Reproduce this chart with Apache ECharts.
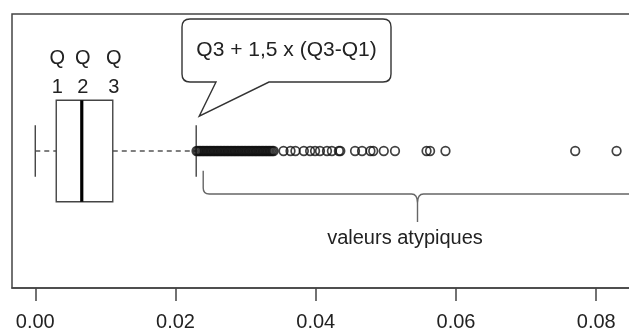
<!DOCTYPE html>
<html>
<head>
<meta charset="utf-8">
<script src="https://cdn.jsdelivr.net/npm/echarts@6/dist/echarts.min.js"></script>
<style>
  html, body { margin: 0; padding: 0; background: #fff; }
  #chart { width: 629px; height: 334px; }
</style>
</head>
<body>
<div id="chart"></div>
<script>
// Axis ticks and their labels
const xTicks = [0, 0.02, 0.04, 0.06, 0.08];
const tickLabels = ['0.00', '0.02', '0.04', '0.06', '0.08'];

// Box statistics: lower whisker, Q1, median, Q3, upper whisker (Q3 + 1.5 IQR)
const boxStats = [0.0000, 0.00299, 0.00663, 0.01105, 0.02295];
const quartileNames = ['Q\n1', 'Q\n2', 'Q\n3'];

// Outlying values beyond the upper whisker
const outliers = [
  0.0230, 0.0232, 0.0234, 0.0236, 0.0238, 0.0240, 0.0242, 0.0244, 0.0246, 0.0248,
  0.0250, 0.0252, 0.0254, 0.0256, 0.0258, 0.0260, 0.0262, 0.0264, 0.0266, 0.0268,
  0.0270, 0.0272, 0.0274, 0.0276, 0.0278, 0.0280, 0.0282, 0.0284, 0.0286, 0.0288,
  0.0290, 0.0292, 0.0294, 0.0296, 0.0298, 0.0300, 0.0302, 0.0304, 0.0306, 0.0308,
  0.0310, 0.0312, 0.0314, 0.0316, 0.0318, 0.0320, 0.0322, 0.0324, 0.0326, 0.0328,
  0.0330, 0.0332, 0.0334, 0.0336, 0.0338, 0.0340,
  0.0354, 0.0364, 0.0371, 0.0383, 0.0392, 0.0399, 0.0406, 0.0416, 0.0423,
  0.0433, 0.0435, 0.0456, 0.0466, 0.0478, 0.0482, 0.0497, 0.0513,
  0.0558, 0.0563, 0.0585, 0.0770, 0.0829
];

// Annotation texts
const fenceText = 'Q3 + 1,5 x (Q3-Q1)';
const outlierText = 'valeurs atypiques';

const FONT = '"Liberation Sans", Arial, sans-serif';
const INK = '#222';
const LINE = '#444';
const BOX_HALF = 0.185;   // half-height of the box in y units
const CAP_HALF = 0.094;   // half-height of the whisker caps
const ROW = 0.5;

function textEl(x, y, text, size) {
  return {
    type: 'text', x: x, y: y, z2: 20,
    style: {
      text: text, fill: INK, font: size + 'px ' + FONT,
      align: 'center', verticalAlign: 'middle',
      textAlign: 'center', textVerticalAlign: 'middle'
    }
  };
}

const chart = echarts.init(document.getElementById('chart'), null, { renderer: 'canvas' });

chart.setOption({
  animation: false,
  backgroundColor: '#fff',
  grid: {
    left: 12, top: 14, width: 628, height: 274,
    outerBoundsMode: 'none', containLabel: false,
    show: true, borderColor: LINE, borderWidth: 1.5, backgroundColor: 'transparent'
  },
  xAxis: {
    type: 'value',
    min: -0.00332, max: 0.08624,
    splitLine: { show: false },
    axisLine: { show: true, lineStyle: { color: LINE, width: 1.5 } },
    axisTick: { show: true, customValues: xTicks, length: 13, lineStyle: { color: LINE, width: 1.5 } },
    axisLabel: {
      customValues: xTicks,
      margin: 24,
      color: INK, fontSize: 20, fontFamily: FONT,
      formatter: v => {
        const i = xTicks.findIndex(t => Math.abs(t - v) < 1e-9);
        return i >= 0 ? tickLabels[i] : '';
      }
    }
  },
  yAxis: { type: 'value', min: 0, max: 1, show: false },
  series: [
    {
      // box, median and dashed whiskers
      type: 'custom',
      data: [boxStats],
      z: 2,
      clip: false,
      renderItem: (params, api) => {
        const px = i => api.coord([api.value(i), ROW])[0];
        const yc = api.coord([0, ROW])[1];
        const yTop = api.coord([0, ROW + BOX_HALF])[1];
        const yBot = api.coord([0, ROW - BOX_HALF])[1];
        const cTop = api.coord([0, ROW + CAP_HALF])[1];
        const cBot = api.coord([0, ROW - CAP_HALF])[1];
        const x0 = px(0), x1 = px(1), x2 = px(2), x3 = px(3), x4 = px(4);
        const dash = { stroke: '#555', lineWidth: 1.4, lineDash: [5, 4] };
        const solid = { stroke: LINE, lineWidth: 1.4 };
        return {
          type: 'group',
          children: [
            { type: 'line', shape: { x1: x0, y1: yc, x2: x1, y2: yc }, style: dash },
            { type: 'line', shape: { x1: x3, y1: yc, x2: x4, y2: yc }, style: dash },
            { type: 'line', shape: { x1: x0, y1: cTop, x2: x0, y2: cBot }, style: solid },
            { type: 'line', shape: { x1: x4, y1: cTop, x2: x4, y2: cBot }, style: solid },
            { type: 'rect', shape: { x: x1, y: yTop, width: x3 - x1, height: yBot - yTop },
              style: { fill: '#fff', stroke: LINE, lineWidth: 1.4 } },
            { type: 'line', shape: { x1: x2, y1: yTop, x2: x2, y2: yBot },
              style: { stroke: '#000', lineWidth: 3.2 } }
          ]
        };
      }
    },
    {
      type: 'scatter',
      data: outliers.map(v => [v, ROW]),
      symbol: 'circle',
      symbolSize: 8.6,
      z: 3,
      itemStyle: { color: 'rgba(255,255,255,0)', borderColor: '#111', borderWidth: 1.7 },
      emphasis: { disabled: true }
    },
    {
      // annotations: quartile names, callout at the upper fence, brace over the outliers
      type: 'custom',
      data: [boxStats],
      z: 5,
      clip: false,
      silent: true,
      renderItem: (params, api) => {
        const px = i => api.coord([api.value(i), ROW])[0];
        const cTop = api.coord([0, ROW + CAP_HALF])[1];
        const cBot = api.coord([0, ROW - CAP_HALF])[1];
        const fx = px(4);
        const children = [];

        // quartile names above the box
        quartileNames.forEach((t, i) => {
          const x = px(i + 1) + 1;
          const parts = t.split('\n');
          children.push(textEl(x, 58, parts[0], 20));
          children.push(textEl(x, 87, parts[1], 20));
        });

        // speech bubble pointing at the fence
        const bL = 182, bT = 19, bR = 391, bB = 82, r = 8;
        const tipX = fx + 3, tipY = cTop - 9;
        const bubble =
          `M${bL + r},${bT} L${bR - r},${bT} Q${bR},${bT} ${bR},${bT + r} ` +
          `L${bR},${bB - r} Q${bR},${bB} ${bR - r},${bB} L269,${bB} L${tipX},${tipY} L216,${bB} ` +
          `L${bL + r},${bB} Q${bL},${bB} ${bL},${bB - r} L${bL},${bT + r} Q${bL},${bT} ${bL + r},${bT} Z`;
        children.push({ type: 'path', z2: 10, shape: { pathData: bubble },
          style: { fill: '#fff', stroke: '#333', lineWidth: 1.4 } });
        children.push(textEl((bL + bR) / 2, 50, fenceText, 21));

        // curly brace under the outliers
        const x0 = fx + 7, y0 = cBot - 6, hy = 194, cx = 417.5, cy = 222;
        const brace =
          `M${x0},${y0} L${x0},${hy - 6} Q${x0},${hy} ${x0 + 6},${hy} L${cx - 6},${hy} ` +
          `Q${cx},${hy} ${cx},${hy + 9} L${cx},${cy} M${cx},${hy + 9} Q${cx},${hy} ${cx + 6},${hy} L680,${hy}`;
        children.push({ type: 'path', z2: 10, shape: { pathData: brace },
          style: { fill: null, stroke: '#666', lineWidth: 1.4 } });
        children.push(textEl(405, 238, outlierText, 20));

        return { type: 'group', children: children };
      }
    }
  ]
});
</script>
</body>
</html>
